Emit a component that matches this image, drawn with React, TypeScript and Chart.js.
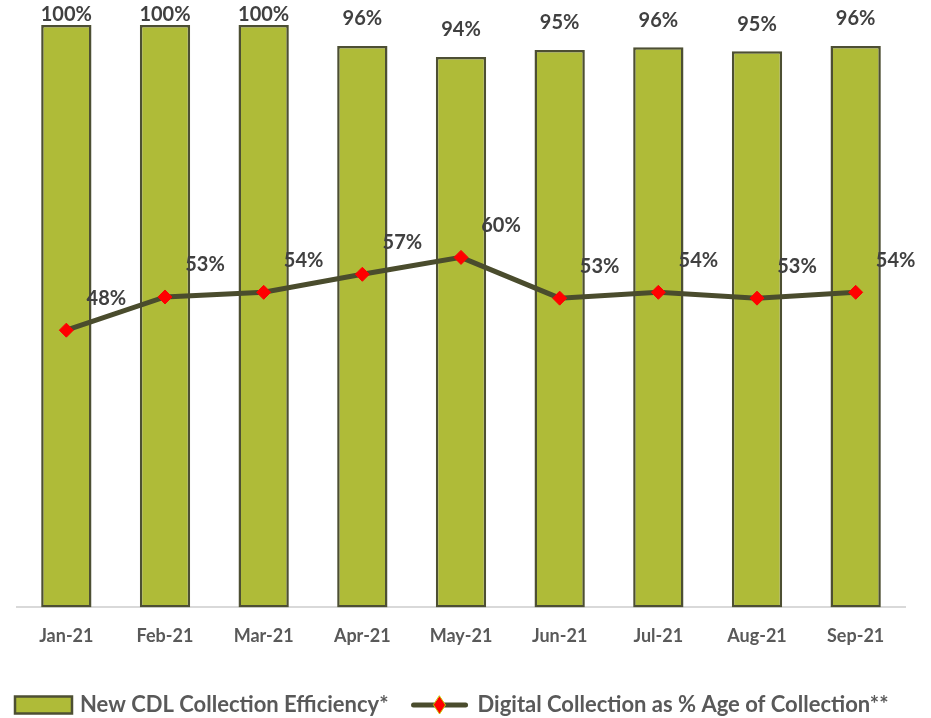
import React, { useEffect, useRef } from "react";
import { Chart, registerables } from "chart.js";

Chart.register(...registerables);

const categories = ["Jan-21", "Feb-21", "Mar-21", "Apr-21", "May-21", "Jun-21", "Jul-21", "Aug-21", "Sep-21"];
const efficiencyValues = [100, 100, 100, 96.4, 94.5, 95.7, 96.2, 95.5, 96.4];
const efficiencyLabels = ["100%", "100%", "100%", "96%", "94%", "95%", "96%", "95%", "96%"];
const digitalValues = [47.6, 53.3, 54.1, 57.2, 60.1, 53.1, 54.1, 53.1, 54.1];
const digitalLabels = ["48%", "53%", "54%", "57%", "60%", "53%", "54%", "53%", "54%"];
const seriesNames = ["New CDL Collection Efficiency*", "Digital Collection as % Age of Collection**"];

const FONT = "Lato, 'Open Sans', sans-serif";
const BAR_FILL = "#AFBB38";
const BAR_BORDER = "#4D4F33";
const LINE_COLOR = "#4A4C2D";
const TEXT_DARK = "#404040";
const TEXT_GRAY = "#595959";

const labelPlugin = {
  id: "customLabels",
  afterDatasetsDraw(chart: any) {
    const ctx = chart.ctx;
    ctx.save();
    ctx.font = `bold 20px ${FONT}`;
    ctx.fillStyle = TEXT_DARK;
    ctx.textAlign = "center";
    ctx.textBaseline = "middle";
    const barMeta = chart.getDatasetMeta(1);
    barMeta.data.forEach((el: any, i: number) => {
      const y = Math.max(el.y - 27, 15);
      ctx.fillText(efficiencyLabels[i], el.x, y);
    });
    const lineMeta = chart.getDatasetMeta(0);
    lineMeta.data.forEach((el: any, i: number) => {
      ctx.fillText(digitalLabels[i], el.x + 40, el.y - 32);
    });
    ctx.restore();
  },
  afterDraw(chart: any) {
    const ctx = chart.ctx;
    ctx.save();
    const cy = 705;
    let x = 15;
    ctx.fillStyle = BAR_FILL;
    ctx.strokeStyle = BAR_BORDER;
    ctx.lineWidth = 2.5;
    ctx.fillRect(x, cy - 8.5, 57, 17);
    ctx.strokeRect(x, cy - 8.5, 57, 17);
    x += 65;
    ctx.font = `bold 22px ${FONT}`;
    ctx.fillStyle = TEXT_GRAY;
    ctx.textAlign = "left";
    ctx.textBaseline = "middle";
    ctx.fillText(seriesNames[0], x, cy);
    x += ctx.measureText(seriesNames[0]).width + 25;
    ctx.strokeStyle = LINE_COLOR;
    ctx.lineWidth = 5;
    ctx.lineCap = "round";
    ctx.beginPath();
    ctx.moveTo(x, cy);
    ctx.lineTo(x + 52, cy);
    ctx.stroke();
    const dx = x + 26;
    ctx.beginPath();
    ctx.moveTo(dx, cy - 9);
    ctx.lineTo(dx + 6, cy);
    ctx.lineTo(dx, cy + 9);
    ctx.lineTo(dx - 6, cy);
    ctx.closePath();
    ctx.fillStyle = "#FF0000";
    ctx.fill();
    ctx.strokeStyle = "#C8C400";
    ctx.lineWidth = 1;
    ctx.stroke();
    x += 64;
    ctx.fillStyle = TEXT_GRAY;
    ctx.fillText(seriesNames[1], x, cy);
    ctx.restore();
  },
};

export default function App() {
  const canvasRef = useRef<HTMLCanvasElement>(null);

  useEffect(() => {
    document.body.style.margin = "0";
    const canvas = canvasRef.current;
    if (!canvas) return;
    const chart = new Chart(canvas, {
      data: {
        labels: categories,
        datasets: [
          {
            type: "line",
            label: seriesNames[1],
            data: digitalValues,
            borderColor: LINE_COLOR,
            borderWidth: 5,
            pointStyle: "rectRot",
            pointRadius: 7,
            pointBackgroundColor: "#FF0000",
            pointBorderColor: "#FF0000",
            pointBorderWidth: 1,
            tension: 0,
            order: 0,
          },
          {
            type: "bar",
            label: seriesNames[0],
            data: efficiencyValues,
            backgroundColor: BAR_FILL,
            borderColor: BAR_BORDER,
            borderWidth: 2.5,
            borderSkipped: false,
            categoryPercentage: 1,
            barPercentage: 0.51,
            order: 1,
          },
        ],
      } as any,
      options: {
        animation: false,
        responsive: false,
        maintainAspectRatio: false,
        layout: { padding: { left: 17, right: 26, top: 25, bottom: 61 } },
        plugins: {
          legend: { display: false },
          tooltip: { enabled: false },
        },
        scales: {
          x: {
            grid: { display: false },
            border: { display: true, color: "#D9D9D9", width: 2 },
            ticks: {
              color: TEXT_GRAY,
              font: { family: FONT, size: 18, weight: "bold" },
              padding: 10,
            },
          },
          y: {
            display: false,
            min: 0,
            max: 100,
          },
        },
      } as any,
      plugins: [labelPlugin],
    });
    return () => chart.destroy();
  }, []);

  return (
    <div style={{ width: 931, height: 718, background: "#fff" }}>
      <canvas ref={canvasRef} width={931} height={718} style={{ display: "block" }} />
    </div>
  );
}
